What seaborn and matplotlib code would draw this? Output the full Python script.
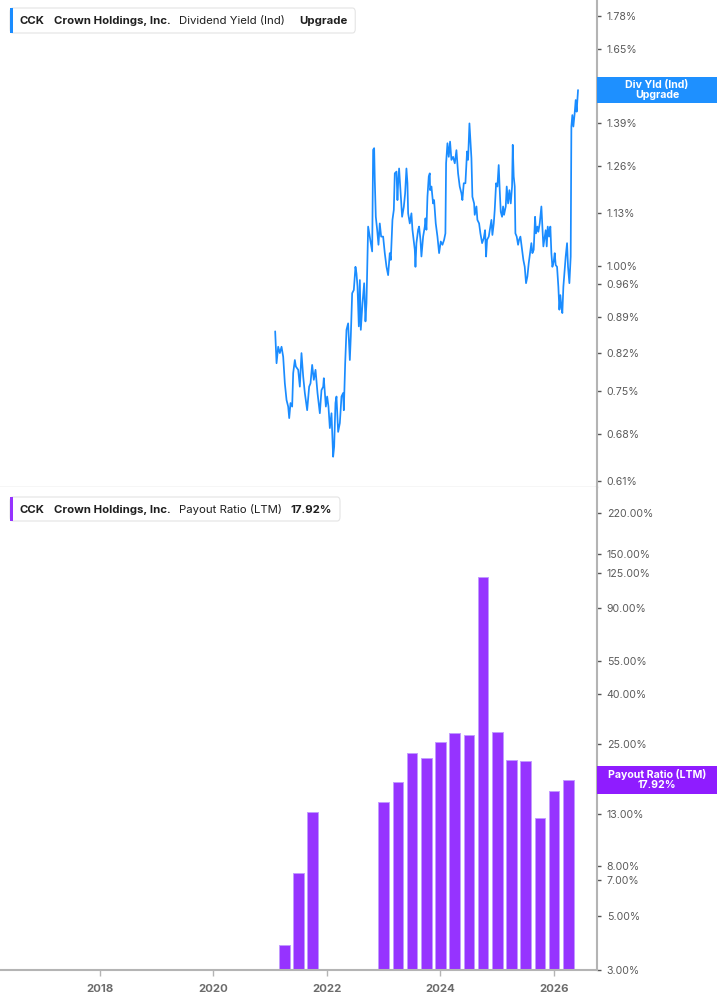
import numpy as np
import pandas as pd
import matplotlib
matplotlib.use("Agg")
import matplotlib.pyplot as plt
import seaborn as sns
from matplotlib.ticker import FixedLocator, FuncFormatter, NullLocator
from matplotlib.patches import FancyBboxPatch, Rectangle

# ---------------- data ----------------
yield_dates = [
    2021.091, 2021.115, 2021.144, 2021.173, 2021.203, 2021.232, 2021.261, 2021.291, 2021.320, 2021.338,
    2021.361, 2021.390, 2021.408, 2021.437, 2021.455, 2021.496, 2021.525, 2021.554, 2021.584, 2021.613,
    2021.654, 2021.689, 2021.713, 2021.742, 2021.771, 2021.801, 2021.836, 2021.877, 2021.906, 2021.936,
    2021.947, 2021.983, 2022.006, 2022.029, 2022.053, 2022.082, 2022.111, 2022.129, 2022.152, 2022.170,
    2022.199, 2022.229, 2022.258, 2022.287, 2022.299, 2022.323, 2022.346, 2022.375, 2022.405, 2022.422,
    2022.446, 2022.475, 2022.504, 2022.522, 2022.540, 2022.563, 2022.581, 2022.598, 2022.628, 2022.657,
    2022.680, 2022.698, 2022.715, 2022.727, 2022.756, 2022.774, 2022.798, 2022.815, 2022.833, 2022.844,
    2022.862, 2022.886, 2022.909, 2022.932, 2022.956, 2022.991, 2023.020, 2023.050, 2023.079, 2023.108,
    2023.126, 2023.155, 2023.179, 2023.196, 2023.226, 2023.243, 2023.255, 2023.272, 2023.296, 2023.325,
    2023.355, 2023.378, 2023.401, 2023.419, 2023.431, 2023.460, 2023.489, 2023.507, 2023.548, 2023.560,
    2023.577, 2023.607, 2023.624, 2023.648, 2023.665, 2023.695, 2023.724, 2023.736, 2023.753, 2023.771,
    2023.794, 2023.812, 2023.818, 2023.841, 2023.870, 2023.888, 2023.917, 2023.947, 2023.976, 2024.005,
    2024.035, 2024.064, 2024.087, 2024.099, 2024.123, 2024.146, 2024.169, 2024.193, 2024.222, 2024.252,
    2024.281, 2024.310, 2024.339, 2024.369, 2024.386, 2024.410, 2024.439, 2024.468, 2024.486, 2024.510,
    2024.533, 2024.545, 2024.562, 2024.592, 2024.603, 2024.633, 2024.650, 2024.680, 2024.703, 2024.733,
    2024.762, 2024.785, 2024.803, 2024.820, 2024.850, 2024.879, 2024.897, 2024.914, 2024.938, 2024.955,
    2024.979, 2025.002, 2025.025, 2025.043, 2025.061, 2025.084, 2025.102, 2025.119, 2025.149, 2025.166,
    2025.190, 2025.213, 2025.237, 2025.260, 2025.272, 2025.289, 2025.307, 2025.319, 2025.342, 2025.366,
    2025.383, 2025.407, 2025.436, 2025.459, 2025.483, 2025.506, 2025.530, 2025.553, 2025.577, 2025.600,
    2025.618, 2025.641, 2025.665, 2025.682, 2025.706, 2025.723, 2025.747, 2025.776, 2025.794, 2025.811,
    2025.835, 2025.852, 2025.870, 2025.888, 2025.911, 2025.934, 2025.952, 2025.970, 2025.993, 2026.011,
    2026.028, 2026.052, 2026.075, 2026.093, 2026.110, 2026.128, 2026.145, 2026.163, 2026.187, 2026.204,
    2026.228, 2026.245, 2026.269, 2026.292, 2026.304, 2026.321, 2026.339, 2026.362, 2026.380, 2026.397,
    2026.421,
]
yield_values = [
    0.861, 0.800, 0.831, 0.819, 0.831, 0.812, 0.764, 0.735, 0.724, 0.705,
    0.730, 0.724, 0.782, 0.806, 0.794, 0.788, 0.758, 0.819, 0.776, 0.747,
    0.718, 0.758, 0.764, 0.797, 0.770, 0.788, 0.747, 0.713, 0.752, 0.758,
    0.773, 0.724, 0.741, 0.724, 0.689, 0.713, 0.645, 0.660, 0.730, 0.741,
    0.683, 0.697, 0.741, 0.747, 0.718, 0.800, 0.864, 0.877, 0.806, 0.851,
    0.940, 0.947, 0.999, 0.984, 0.954, 0.871, 0.969, 0.864, 0.919, 0.962,
    0.881, 0.919, 1.023, 1.096, 1.071, 1.055, 1.035, 1.308, 1.313, 1.220,
    1.121, 1.088, 1.051, 1.104, 1.071, 1.071, 1.031, 0.999, 0.980, 1.031,
    1.015, 1.113, 1.139, 1.239, 1.244, 1.165, 1.211, 1.253, 1.192, 1.121,
    1.147, 1.183, 1.253, 1.211, 1.130, 1.104, 1.130, 1.088, 1.039, 0.999,
    1.055, 1.088, 1.096, 1.063, 1.023, 1.071, 1.096, 1.117, 1.088, 1.174,
    1.230, 1.239, 1.192, 1.202, 1.156, 1.165, 1.104, 1.071, 1.031, 1.059,
    1.051, 1.063, 1.079, 1.268, 1.328, 1.287, 1.333, 1.278, 1.287, 1.268,
    1.307, 1.239, 1.202, 1.183, 1.165, 1.211, 1.211, 1.303, 1.278, 1.390,
    1.318, 1.283, 1.174, 1.156, 1.126, 1.148, 1.113, 1.104, 1.079, 1.055,
    1.067, 1.087, 1.023, 1.063, 1.071, 1.096, 1.113, 1.075, 1.104, 1.139,
    1.211, 1.202, 1.263, 1.192, 1.134, 1.121, 1.148, 1.126, 1.148, 1.202,
    1.156, 1.192, 1.156, 1.202, 1.323, 1.230, 1.202, 1.079, 1.071, 1.051,
    1.063, 1.071, 1.039, 1.015, 0.999, 0.962, 0.977, 1.007, 1.031, 1.055,
    1.031, 1.039, 1.121, 1.079, 1.096, 1.083, 1.104, 1.148, 1.096, 1.047,
    1.071, 1.087, 1.047, 1.096, 1.071, 1.096, 1.031, 0.999, 1.011, 1.031,
    1.003, 0.999, 0.954, 0.905, 0.936, 0.911, 0.898, 0.954, 0.992, 1.023,
    1.055, 0.999, 0.962, 1.023, 1.380, 1.417, 1.380, 1.423, 1.467, 1.428,
    1.501,
]

payout_dates = [2021.25, 2021.50, 2021.75,
                2023.00, 2023.25, 2023.50, 2023.75, 2024.00, 2024.25, 2024.50,
                2024.75, 2025.00, 2025.25, 2025.50, 2025.75, 2026.00, 2026.25]
payout_values = [3.8, 7.5, 13.3,
                 14.5, 17.6, 23.1, 22.0, 25.5, 27.8, 27.2,
                 121.0, 28.0, 21.5, 21.3, 12.5, 16.2, 17.92]

year_ticks = [2018, 2020, 2022, 2024, 2026]
yield_ticks = [0.61, 0.68, 0.75, 0.82, 0.89, 0.96, 1.00, 1.13, 1.26, 1.39, 1.52, 1.65, 1.78]
payout_ticks = [3, 5, 7, 8, 13, 18, 25, 40, 55, 90, 125, 150, 220]
# tick values whose labels sit behind the value tags
yield_hidden = [1.52]
payout_hidden = [18]

ticker = "CCK"
company = "Crown Holdings, Inc."
top_metric = "Dividend Yield (Ind)"
top_extra = "Upgrade"
bot_metric = "Payout Ratio (LTM)"
bot_extra = "17.92%"
top_tag = "Div Yld (Ind)\nUpgrade"
bot_tag = "Payout Ratio (LTM)\n17.92%"

# ---------------- style ----------------
sns.set_theme(style="white")
plt.rcParams['font.family'] = ['Inter', 'DejaVu Sans']

BLUE = '#1a8cff'
PURPLE = '#9633ff'
PURPLE_TAG = '#8f1cff'
SPINE = '#b4b4b4'

W, H = 717, 1005
fig = plt.figure(figsize=(W / 100, H / 100), dpi=100)
fig.patch.set_facecolor('white')

AX_W = 597 / W
ax1 = fig.add_axes([0, 1 - 487 / H, AX_W, 487 / H])
ax2 = fig.add_axes([0, 1 - 970 / H, AX_W, 483 / H])

XMIN, XMAX = 2016.248, 2026.755

# ---- top: dividend yield line ----
df_y = pd.DataFrame({"date": yield_dates, "yield": yield_values})
sns.lineplot(data=df_y, x="date", y="yield", ax=ax1, color=BLUE, lw=1.25,
             estimator=None, sort=False)
ax1.set_yscale('log')
ax1.set_ylim(0.6016, 1.847)
ax1.set_xlim(XMIN, XMAX)

# ---- bottom: payout ratio bars ----
df_p = pd.DataFrame({"date": payout_dates, "payout": payout_values})
sns.barplot(data=df_p, x="date", y="payout", ax=ax2, native_scale=True,
            color=PURPLE, width=0.75, edgecolor='#c29bff', linewidth=0.7,
            saturation=1)
ax2.set_yscale('log')
ax2.set_ylim(3.0, 280.9)
ax2.set_xlim(XMIN, XMAX)


def make_fmt(hidden):
    def f(v, p):
        if any(abs(v - h) < 1e-9 for h in hidden):
            return ""
        return "{:.2f}%".format(v)
    return FuncFormatter(f)


for ax, ticks, hidden in [(ax1, yield_ticks, yield_hidden), (ax2, payout_ticks, payout_hidden)]:
    ax.set_xlabel("")
    ax.set_ylabel("")
    ax.yaxis.tick_right()
    ax.yaxis.set_major_locator(FixedLocator(ticks))
    ax.yaxis.set_minor_locator(NullLocator())
    ax.yaxis.set_major_formatter(make_fmt(hidden))
    ax.tick_params(axis='y', which='major', direction='out', length=3, width=1,
                   color='#555555', labelsize=7.6, labelcolor='#5a5a5a', pad=4,
                   right=True, left=False)
    ax.spines['left'].set_visible(False)
    ax.spines['top'].set_visible(False)
    ax.spines['right'].set_color(SPINE)
    ax.spines['right'].set_linewidth(1.5)
    ax.grid(False)
    ax.set_facecolor('white')

ax1.spines['bottom'].set_color('#d2d2d2')
ax1.spines['bottom'].set_linewidth(1.0)
ax1.set_xticks([])

ax2.spines['bottom'].set_color(SPINE)
ax2.spines['bottom'].set_linewidth(1.5)
ax2.set_xticks(year_ticks)
ax2.xaxis.set_minor_locator(NullLocator())
ax2.set_xticklabels([str(t) for t in year_ticks])
ax2.tick_params(axis='x', direction='out', length=4, width=1, color=SPINE,
                labelsize=8.2, labelcolor='#6b6b6b', pad=6, bottom=True)
for lab in ax2.get_xticklabels():
    lab.set_fontweight('bold')


def fx(x):
    return x / W


def fy(y):
    return 1 - y / H


# ---- right-side value tags ----
def value_tag(ax, value, text, color, h_px):
    y_disp = ax.transData.transform((XMIN, value))[1]
    rect = Rectangle((AX_W, (y_disp - h_px / 2) / H), 1 - AX_W, h_px / H,
                     transform=fig.transFigure, facecolor=color, edgecolor='none',
                     zorder=5)
    fig.add_artist(rect)
    fig.text((AX_W + 1) / 2, y_disp / H, text, ha='center', va='center',
             color='white', fontsize=7.6, fontweight='bold', linespacing=1.0,
             zorder=6)


value_tag(ax1, yield_values[-1], top_tag, '#1e90ff', 26)
value_tag(ax2, payout_values[-1], bot_tag, PURPLE_TAG, 28)

renderer = fig.canvas.get_renderer()


# ---- legend boxes ----
def legend_box(y_top, y_bot, accent, parts, fs=8.2):
    yc = fy((y_top + y_bot) / 2 + 0.5)
    x_prev_end = 0
    for x, gap, txt, wt in parts:
        xs = max(x, x_prev_end + gap)
        t = fig.text(fx(xs), yc, txt, ha='left', va='center', fontsize=fs,
                     fontweight=wt, color='#1f1f1f', zorder=7)
        bb = t.get_window_extent(renderer)
        x_prev_end = bb.x1
    x_right = x_prev_end + 8
    box = FancyBboxPatch((fx(10), fy(y_bot)), fx(x_right - 10), (y_bot - y_top) / H,
                         boxstyle="round,pad=0,rounding_size=0.004",
                         transform=fig.transFigure, facecolor='white',
                         edgecolor='#e4e4e4', linewidth=0.8, zorder=5)
    fig.add_artist(box)
    acc = Rectangle((fx(10), fy(y_bot)), fx(3), (y_bot - y_top) / H,
                    transform=fig.transFigure, facecolor=accent, edgecolor='none',
                    zorder=6)
    fig.add_artist(acc)


legend_box(8, 33, BLUE,
           [(20, 0, ticker, 'bold'), (53, 9, company, 'bold'),
            (178, 8, top_metric, 'normal'), (299, 12, top_extra, 'bold')])
legend_box(497, 521, PURPLE,
           [(20, 0, ticker, 'bold'), (53, 9, company, 'bold'),
            (178, 8, bot_metric, 'normal'), (289, 9, bot_extra, 'bold')])

fig.savefig("out.png", dpi=100, facecolor='white')
